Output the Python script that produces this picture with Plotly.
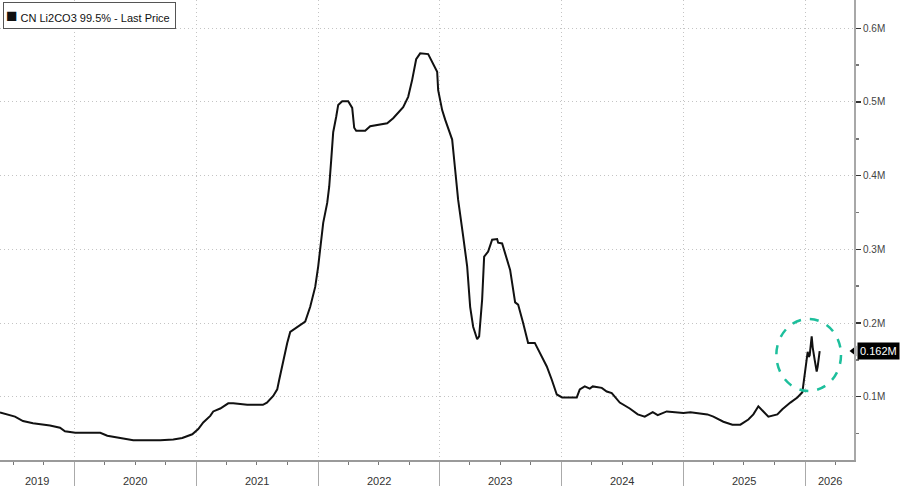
import plotly.graph_objects as go

# ---- data (CN Li2CO3 99.5% - Last Price, CNY/t) ----
dates = [
    "2019-05-15", "2019-05-22", "2019-07-06", "2019-07-30", "2019-08-29", "2019-10-19", "2019-11-18",
    "2019-12-03", "2020-01-03", "2020-03-18", "2020-04-08", "2020-06-25", "2020-09-14", "2020-10-23",
    "2020-11-19", "2020-12-19", "2021-01-06", "2021-01-21", "2021-02-11", "2021-02-20", "2021-03-13",
    "2021-04-06", "2021-04-21", "2021-06-02", "2021-07-19", "2021-07-31", "2021-08-19", "2021-08-31",
    "2021-09-06", "2021-09-18", "2021-09-30", "2021-10-09", "2021-10-30", "2021-11-23", "2021-12-08",
    "2021-12-23", "2022-01-01", "2022-01-07", "2022-01-16", "2022-01-28", "2022-02-03", "2022-02-09",
    "2022-02-15", "2022-02-24", "2022-03-02", "2022-03-14", "2022-04-01", "2022-04-13", "2022-04-19",
    "2022-04-25", "2022-05-22", "2022-06-06", "2022-06-27", "2022-07-27", "2022-08-14", "2022-08-29",
    "2022-09-13", "2022-09-28", "2022-10-10", "2022-10-22", "2022-11-03", "2022-11-27", "2022-12-06",
    "2022-12-15", "2022-12-24", "2022-12-27", "2023-01-08", "2023-01-17", "2023-01-23", "2023-02-07",
    "2023-02-16", "2023-02-25", "2023-03-12", "2023-03-24", "2023-04-02", "2023-04-11", "2023-04-23",
    "2023-04-29", "2023-05-08", "2023-05-14", "2023-05-26", "2023-06-07", "2023-06-22", "2023-06-25",
    "2023-07-07", "2023-07-16", "2023-07-31", "2023-08-15", "2023-08-24", "2023-09-08", "2023-09-23",
    "2023-10-13", "2023-10-28", "2023-11-18", "2023-12-03", "2023-12-18", "2024-01-03", "2024-02-16",
    "2024-02-25", "2024-03-11", "2024-03-26", "2024-04-04", "2024-05-01", "2024-05-16", "2024-05-31",
    "2024-06-24", "2024-07-24", "2024-08-17", "2024-09-07", "2024-10-01", "2024-10-16", "2024-11-12",
    "2025-01-01", "2025-01-22", "2025-03-14", "2025-04-01", "2025-05-01", "2025-05-28", "2025-06-21",
    "2025-07-15", "2025-07-30", "2025-08-14", "2025-08-29", "2025-09-13", "2025-10-10", "2025-10-25",
    "2025-11-18", "2025-12-09", "2025-12-24", "2025-12-28", "2026-01-02", "2026-01-06", "2026-01-09",
    "2026-01-12", "2026-01-15", "2026-01-21", "2026-01-24", "2026-01-30", "2026-02-05", "2026-02-08",
    "2026-02-14",
]
prices = [
    80000, 78600, 73000, 67000, 64000, 61000, 58000,
    53000, 51000, 51000, 47000, 41000, 41000, 42000,
    44000, 49000, 56000, 65000, 74000, 80000, 84000,
    91000, 91000, 89000, 89000, 92000, 101000, 110000,
    123000, 150000, 173000, 188000, 195000, 202000, 222000,
    249000, 277000, 304000, 336000, 363000, 385000, 421000,
    459000, 480000, 496000, 501000, 501000, 492000, 465000,
    461000, 461000, 467000, 469000, 471000, 478000, 486000,
    493000, 507000, 530000, 558000, 566000, 565000, 557000,
    547000, 541000, 516000, 489000, 476000, 468000, 449000,
    408000, 367000, 318000, 277000, 222000, 195000, 178000,
    182000, 232000, 290000, 297000, 313000, 314000, 309000,
    308000, 295000, 272000, 228000, 225000, 200000, 173000,
    173000, 160000, 141000, 123000, 103000, 99000, 99000,
    110000, 114000, 111000, 114000, 112000, 107000, 105000,
    92000, 84000, 76000, 73000, 79000, 75000, 80000,
    78000, 79000, 76000, 73000, 66000, 62000, 62000,
    69000, 76000, 87000, 80000, 73000, 76000, 83000,
    92000, 99000, 106000, 120000, 135000, 150000, 161000,
    154000, 156000, 182000, 167000, 150000, 134000, 141000,
    162000,
]
series_name = "CN Li2CO3 99.5% - Last Price"
last_label = "0.162M"

year_starts = ["2020-01-01", "2021-01-01", "2022-01-01", "2023-01-01",
               "2024-01-01", "2025-01-01", "2026-01-01"]
year_labels = ["2019", "2020", "2021", "2022", "2023", "2024", "2025", "2026"]
year_label_dates = ["2019-09-10", "2020-07-01", "2021-07-01", "2022-07-01",
                    "2023-07-01", "2024-07-01", "2025-07-01", "2026-03-16"]

y_tickvals = [100000, 200000, 300000, 400000, 500000, 600000]
y_ticktext = ["0.1M", "0.2M", "0.3M", "0.4M", "0.5M", "0.6M"]

x_range = ["2019-05-22", "2026-05-28"]
y_range = [14100, 638400]

# highlight ellipse (data units)
circle_x = ["2025-10-07", "2026-04-19"]
circle_y = [107800, 205500]

FONT = "Liberation Sans"
GRID = "#c4c4c4"

fig = go.Figure()
fig.add_trace(go.Scatter(
    x=dates, y=prices, mode="lines",
    line=dict(color="#111111", width=2),
    showlegend=False, hoverinfo="skip",
))
# pointer for last price tag
fig.add_trace(go.Scatter(
    x=[x_range[1]], y=[prices[-1]], mode="markers",
    marker=dict(symbol="triangle-left", size=9, color="#000000"),
    cliponaxis=False, showlegend=False, hoverinfo="skip",
))

fig.add_shape(type="circle", xref="x", yref="y",
              x0=circle_x[0], x1=circle_x[1], y0=circle_y[0], y1=circle_y[1],
              line=dict(color="#1dbf9c", width=2.5, dash="dash"))

for lab, d in zip(year_labels, year_label_dates):
    fig.add_annotation(x=d, y=0, xref="x", yref="paper", text=lab,
                       showarrow=False, yanchor="top", yshift=-13,
                       font=dict(family=FONT, size=11, color="#333333"))

fig.add_annotation(x=1, y=prices[-1], xref="paper", yref="y", text=last_label,
                   showarrow=False, xanchor="left", xshift=3,
                   bgcolor="#000000", borderpad=2,
                   font=dict(family=FONT, size=11, color="#ffffff"))

# legend box (top-left)
fig.add_annotation(x=0, y=1, xref="paper", yref="paper", xanchor="left", yanchor="top",
                   xshift=3, yshift=-2,
                   text="<span style='font-size:19px'>■</span> " + series_name + " ",
                   showarrow=False, align="left",
                   bgcolor="#ffffff", bordercolor="#555555", borderwidth=1, borderpad=2,
                   font=dict(family=FONT, size=11, color="#111111"))

fig.update_layout(
    width=900, height=486,
    margin=dict(l=0, r=46, t=0, b=26, autoexpand=False),
    paper_bgcolor="#ffffff", plot_bgcolor="#ffffff",
    font=dict(family=FONT, size=11, color="#333333"),
    showlegend=False,
    hovermode=False,
)
fig.update_xaxes(
    type="date", range=x_range,
    tickmode="array", tickvals=year_starts, showticklabels=False,
    ticks="outside", ticklen=26, tickcolor="#aaaaaa", tickwidth=1,
    showgrid=True, gridcolor=GRID, griddash="1px,3px", gridwidth=1,
    showline=True, linecolor="#9a9a9a", linewidth=1.5,
    minor=dict(tickmode="linear", tick0="2019-01-01", dtick="M3",
               ticks="outside", ticklen=3, tickcolor="#777777", showgrid=False),
    zeroline=False, fixedrange=True,
)
fig.update_yaxes(
    side="right", range=y_range,
    tickmode="array", tickvals=y_tickvals, ticktext=y_ticktext,
    ticks="outside", ticklen=5, tickcolor="#333333", tickwidth=1.5,
    tickfont=dict(family=FONT, size=10, color="#444444"),
    showgrid=True, gridcolor=GRID, griddash="1px,3px", gridwidth=1,
    showline=True, linecolor="#a8a8a8", linewidth=2,
    minor=dict(tickmode="linear", tick0=0, dtick=50000,
               ticks="outside", ticklen=3, tickcolor="#777777", showgrid=False),
    zeroline=False, fixedrange=True,
)

fig.write_html("out.html", config={"displayModeBar": False, "staticPlot": True},
               post_script="document.body.style.margin='0';document.body.style.overflow='hidden';")
